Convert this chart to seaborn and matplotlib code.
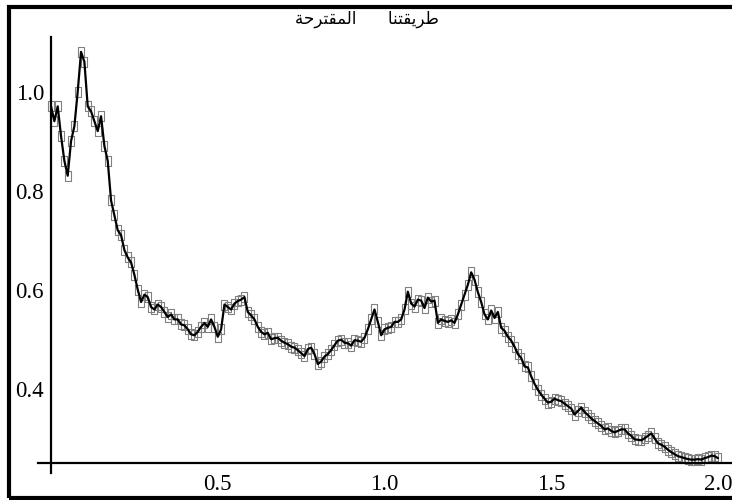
import numpy as np
import pandas as pd
import matplotlib
matplotlib.use("Agg")
import matplotlib.pyplot as plt
from matplotlib.patches import Rectangle
from matplotlib.ticker import FixedLocator, MultipleLocator, FormatStrFormatter
import seaborn as sns

# ---- data -------------------------------------------------------------
title_text = "طريقتنا      المقترحة"

x_ticks = [0.5, 1.0, 1.5, 2.0]
y_ticks = [0.4, 0.6, 0.8, 1.0]

u_values = [
    0.970, 0.940, 0.970, 0.910, 0.860, 0.830, 0.900, 0.930, 1.000, 1.080,
    1.060, 0.970, 0.960, 0.940, 0.920, 0.950, 0.890, 0.860, 0.780, 0.750,
    0.720, 0.710, 0.680, 0.665, 0.655, 0.630, 0.600, 0.575, 0.590, 0.585,
    0.565, 0.560, 0.570, 0.565, 0.555, 0.545, 0.550, 0.540, 0.540, 0.530,
    0.528, 0.520, 0.510, 0.508, 0.515, 0.525, 0.533, 0.525, 0.540, 0.525,
    0.505, 0.520, 0.570, 0.565, 0.560, 0.572, 0.577, 0.580, 0.585, 0.555,
    0.548, 0.540, 0.525, 0.515, 0.510, 0.513, 0.500, 0.502, 0.503, 0.497,
    0.493, 0.490, 0.485, 0.483, 0.478, 0.472, 0.466, 0.480, 0.483, 0.470,
    0.450, 0.455, 0.465, 0.470, 0.478, 0.488, 0.497, 0.499, 0.493, 0.492,
    0.487, 0.498, 0.497, 0.495, 0.503, 0.520, 0.540, 0.560, 0.535, 0.508,
    0.520, 0.523, 0.525, 0.535, 0.535, 0.540, 0.560, 0.596, 0.572, 0.566,
    0.580, 0.578, 0.563, 0.584, 0.576, 0.578, 0.533, 0.540, 0.537, 0.535,
    0.538, 0.533, 0.550, 0.570, 0.590, 0.610, 0.635, 0.620, 0.595, 0.575,
    0.550, 0.540, 0.558, 0.543, 0.555, 0.523, 0.517, 0.505, 0.497, 0.485,
    0.470, 0.462, 0.445, 0.443, 0.425, 0.410, 0.398, 0.388, 0.380, 0.372,
    0.374, 0.380, 0.377, 0.375, 0.370, 0.365, 0.360, 0.348, 0.355, 0.362,
    0.353, 0.347, 0.340, 0.335, 0.330, 0.325, 0.318, 0.320, 0.315, 0.312,
    0.315, 0.318, 0.318, 0.310, 0.305, 0.298, 0.297, 0.296, 0.300, 0.305,
    0.310, 0.300, 0.290, 0.287, 0.283, 0.277, 0.272, 0.268, 0.264, 0.262,
    0.260, 0.258, 0.257, 0.257, 0.258, 0.257, 0.260, 0.262, 0.265, 0.264,
    0.260,
]
t_values = np.linspace(0.0, 2.0, len(u_values))


# ---- minimal Arabic shaping (matplotlib draws glyphs left to right) ----
FORMS = {  # isolated, final, initial, medial
    "ا": ("\uFE8D", "\uFE8E", None, None),
    "ر": ("\uFEAD", "\uFEAE", None, None),
    "ة": ("\uFE93", "\uFE94", None, None),
    "ل": ("\uFEDD", "\uFEDE", "\uFEDF", "\uFEE0"),
    "م": ("\uFEE1", "\uFEE2", "\uFEE3", "\uFEE4"),
    "ق": ("\uFED5", "\uFED6", "\uFED7", "\uFED8"),
    "ت": ("\uFE95", "\uFE96", "\uFE97", "\uFE98"),
    "ح": ("\uFEA1", "\uFEA2", "\uFEA3", "\uFEA4"),
    "ط": ("\uFEC1", "\uFEC2", "\uFEC3", "\uFEC4"),
    "ي": ("\uFEF1", "\uFEF2", "\uFEF3", "\uFEF4"),
    "ن": ("\uFEE5", "\uFEE6", "\uFEE7", "\uFEE8"),
}


def shape_arabic(text):
    out = []
    for i, ch in enumerate(text):
        if ch not in FORMS:
            out.append(ch)
            continue
        prev = text[i - 1] if i > 0 else ""
        nxt = text[i + 1] if i + 1 < len(text) else ""
        joins_prev = prev in FORMS and FORMS[prev][2] is not None
        joins_next = nxt in FORMS and FORMS[ch][2] is not None
        iso, fin, ini, med = FORMS[ch]
        if joins_prev and joins_next:
            out.append(med)
        elif joins_prev:
            out.append(fin)
        elif joins_next:
            out.append(ini)
        else:
            out.append(iso)
    return "".join(reversed(out))


# ---- figure -----------------------------------------------------------
sns.set_style("white")
plt.rcParams["font.family"] = ["Liberation Serif", "DejaVu Serif"]

W, H = 732, 500
fig = plt.figure(figsize=(W / 100, H / 100), dpi=100)
ax = fig.add_axes([37.7 / W, 1 - 473 / H, (731.3 - 37.7) / W, (473 - 37) / H])

df = pd.DataFrame({"t": t_values, "u": u_values})

rect_marker = [(-0.6, -1), (0.6, -1), (0.6, 1), (-0.6, 1), (-0.6, -1)]
sns.lineplot(data=df, x="t", y="u", ax=ax, linestyle="", marker=rect_marker,
             markersize=7.6, markerfacecolor="none", markeredgecolor="#808080",
             markeredgewidth=0.8, color="#808080")
sns.lineplot(data=df, x="t", y="u", ax=ax, color="black", linewidth=1.6)

ax.set_xlim(-0.04, 2.04)
ax.set_ylim(0.23, 1.11)
ax.set_xlabel("")
ax.set_ylabel("")

for side in ("top", "right"):
    ax.spines[side].set_visible(False)
ax.spines["left"].set_position(("data", 0.0))
ax.spines["bottom"].set_position(("data", 0.251))
for side in ("left", "bottom"):
    ax.spines[side].set_linewidth(1.6)
    ax.spines[side].set_color("black")

ax.xaxis.set_major_locator(FixedLocator(x_ticks))
ax.xaxis.set_minor_locator(MultipleLocator(0.1))
ax.yaxis.set_major_locator(FixedLocator(y_ticks))
ax.yaxis.set_minor_locator(MultipleLocator(0.05))
ax.xaxis.set_major_formatter(FormatStrFormatter("%.1f"))
ax.yaxis.set_major_formatter(FormatStrFormatter("%.1f"))

ax.tick_params(which="major", direction="in", length=3.5, width=1.3,
               labelsize=16.5, colors="black")
ax.tick_params(which="minor", direction="in", length=2.0, width=1.0,
               colors="black")
ax.tick_params(axis="x", which="major", pad=8)
ax.tick_params(axis="y", which="major", pad=5)
ax.grid(False)

fig.text(367 / W, 1 - 19 / H, shape_arabic(title_text), ha="center",
         va="center", fontsize=12, family="DejaVu Sans", color="black")

fig.patches.append(Rectangle((9 / W, 1 - 498 / H), (760 - 9) / W,
                             (498 - 6.5) / H, transform=fig.transFigure,
                             fill=False, linewidth=3.0, edgecolor="black"))

fig.savefig("out.png", dpi=100)
